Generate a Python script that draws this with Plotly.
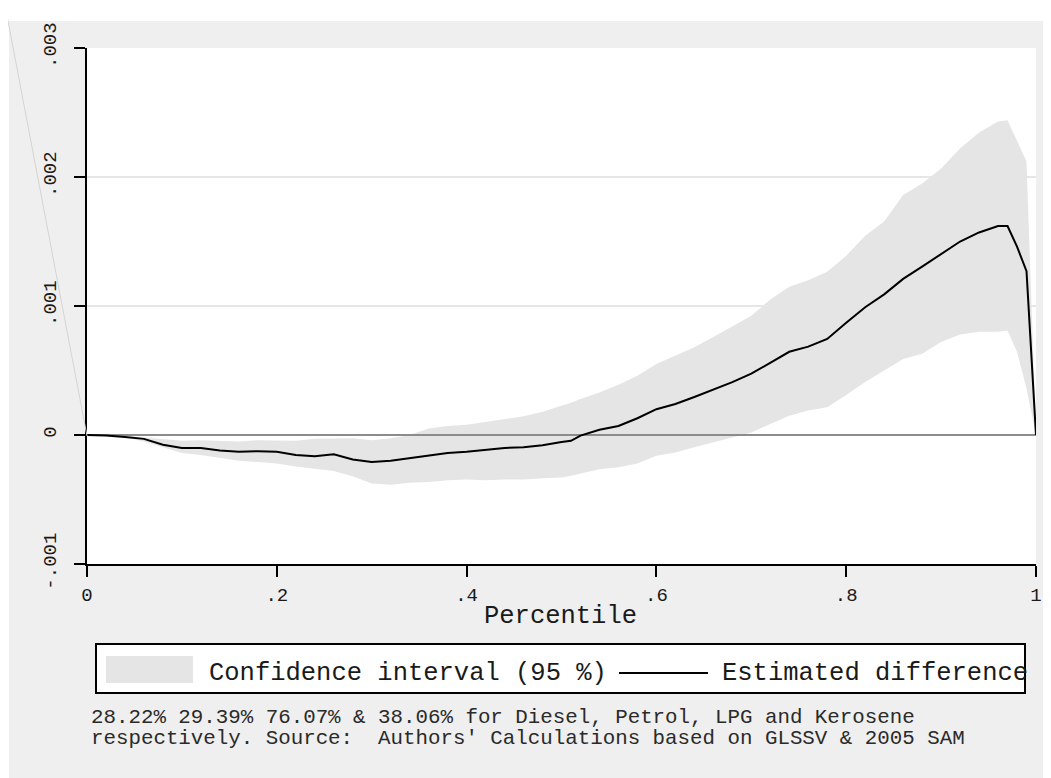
import plotly.graph_objects as go

# ---------------- data (values in units of 0.001) ----------------
percentile = [0.00, 0.02, 0.04, 0.06, 0.08, 0.10, 0.12, 0.14, 0.16, 0.18,
              0.20, 0.22, 0.24, 0.26, 0.28, 0.30, 0.32, 0.34, 0.36, 0.38,
              0.40, 0.42, 0.44, 0.46, 0.48, 0.50, 0.51, 0.52, 0.54, 0.56,
              0.58, 0.60, 0.62, 0.64, 0.66, 0.68, 0.70, 0.72, 0.74, 0.76,
              0.78, 0.80, 0.82, 0.84, 0.86, 0.88, 0.90, 0.92, 0.94, 0.96,
              0.97, 0.98, 0.99, 1.00]

estimated_diff = [0.000, -0.004, -0.015, -0.030, -0.075, -0.100, -0.100, -0.120, -0.130, -0.125,
                  -0.130, -0.155, -0.165, -0.150, -0.190, -0.210, -0.200, -0.180, -0.155, -0.140,
                  -0.130, -0.115, -0.100, -0.095, -0.080, -0.055, -0.045, -0.005, 0.040, 0.070,
                  0.130, 0.200, 0.240, 0.295, 0.350, 0.410, 0.475, 0.560, 0.645, 0.685,
                  0.745, 0.870, 0.990, 1.090, 1.210, 1.305, 1.405, 1.500, 1.570, 1.620,
                  1.620, 1.460, 1.270, 0.000]

ci_upper = [0.000, 0.000, -0.005, -0.020, -0.030, -0.045, -0.040, -0.045, -0.050, -0.040,
            -0.040, -0.045, -0.030, -0.030, -0.025, -0.040, -0.025, 0.000, 0.050, 0.070,
            0.080, 0.100, 0.125, 0.145, 0.180, 0.225, 0.250, 0.280, 0.330, 0.390,
            0.460, 0.550, 0.615, 0.680, 0.760, 0.840, 0.925, 1.050, 1.150, 1.200,
            1.265, 1.390, 1.545, 1.655, 1.860, 1.950, 2.065, 2.220, 2.345, 2.430,
            2.440, 2.280, 2.120, 0.000]

ci_lower = [0.000, -0.005, -0.020, -0.050, -0.095, -0.140, -0.155, -0.175, -0.200, -0.210,
            -0.220, -0.245, -0.260, -0.280, -0.320, -0.375, -0.385, -0.370, -0.365, -0.350,
            -0.345, -0.350, -0.345, -0.345, -0.335, -0.330, -0.315, -0.300, -0.265, -0.250,
            -0.220, -0.160, -0.135, -0.095, -0.055, -0.020, 0.020, 0.085, 0.150, 0.190,
            0.215, 0.310, 0.410, 0.500, 0.590, 0.630, 0.720, 0.780, 0.800, 0.800,
            0.810, 0.645, 0.360, 0.000]

ref_x = [0, 1]
ref_y = [0, 0]

x_tickvals = [0, 0.2, 0.4, 0.6, 0.8, 1]
x_ticktext = ["0", ".2", ".4", ".6", ".8", "1"]
y_tickvals = [-1, 0, 1, 2, 3]
y_ticktext = ["-.001", "0", ".001", ".002", ".003"]

legend_labels = ["Confidence interval (95 %)", "Estimated difference"]
x_title = "Percentile"
note_lines = ["28.22% 29.39% 76.07% & 38.06% for Diesel, Petrol, LPG and Kerosene",
              "respectively. Source:\u00a0 Authors' Calculations based on GLSSV & 2005 SAM"]

# ---------------- layout geometry (page pixels, body margin = 8) ----------------
OFF = 8
W, H = 1051, 778
PLOT_L, PLOT_R, PLOT_T, PLOT_B = 87, 1036, 48, 564     # page coordinates
L, T = PLOT_L - OFF, PLOT_T - OFF
R, B = W - (PLOT_R - OFF), H - (PLOT_B - OFF)
PW, PH = PLOT_R - PLOT_L, PLOT_B - PLOT_T


def px(x):
    return (x - PLOT_L) / PW


def py(y):
    return (PLOT_B - y) / PH


FONT = "Liberation Mono, Courier New, monospace"
BAND = "#e5e5e5"
PAGE = "#efefef"
TXT = "#1a1a1a"

fig = go.Figure()
fig.add_trace(go.Scatter(x=percentile, y=ci_lower, mode="lines", line=dict(width=0),
                         hoverinfo="skip", showlegend=False))
fig.add_trace(go.Scatter(x=percentile, y=ci_upper, mode="lines", line=dict(width=0),
                         fill="tonexty", fillcolor=BAND, name=legend_labels[0], showlegend=False))
fig.add_trace(go.Scatter(x=ref_x, y=ref_y, mode="lines", line=dict(color="#8c8c8c", width=2),
                         hoverinfo="skip", showlegend=False))
fig.add_trace(go.Scatter(x=percentile, y=estimated_diff, mode="lines",
                         line=dict(color="black", width=2), name=legend_labels[1], showlegend=False))

shapes = [
    # white margin strips at top and left
    dict(type="rect", xref="paper", yref="paper", x0=px(-20), x1=px(1070), y0=py(21), y1=py(-20),
         fillcolor="white", line=dict(width=0), layer="below"),
    dict(type="rect", xref="paper", yref="paper", x0=px(-20), x1=px(9), y0=py(800), y1=py(21),
         fillcolor="white", line=dict(width=0), layer="below"),
    # faint diagonal artifact
    dict(type="line", xref="paper", yref="paper", x0=px(87), y0=py(436), x1=px(4), y1=py(0),
         line=dict(color="#d4d4d4", width=1), layer="above"),
    # custom legend
    dict(type="rect", xref="paper", yref="paper", x0=px(96), x1=px(1025), y0=py(693), y1=py(644),
         fillcolor="white", line=dict(color="black", width=2)),
    dict(type="rect", xref="paper", yref="paper", x0=px(106), x1=px(193), y0=py(683), y1=py(656),
         fillcolor=BAND, line=dict(width=0)),
    dict(type="line", xref="paper", yref="paper", x0=px(619), x1=px(708), y0=py(673), y1=py(673),
         line=dict(color="black", width=2)),
]

annotations = [
    dict(text=legend_labels[0], x=px(207), y=py(673), xref="paper", yref="paper",
         xanchor="left", yanchor="middle", showarrow=False, font=dict(family=FONT, size=25.5, color=TXT)),
    dict(text=legend_labels[1], x=px(720), y=py(673), xref="paper", yref="paper",
         xanchor="left", yanchor="middle", showarrow=False, font=dict(family=FONT, size=25.5, color=TXT)),
    dict(text=x_title, x=px(560), y=py(616), xref="paper", yref="paper",
         xanchor="center", yanchor="middle", showarrow=False, font=dict(family=FONT, size=25.5, color=TXT)),
    dict(text=note_lines[0], x=px(89), y=py(717), xref="paper", yref="paper",
         xanchor="left", yanchor="middle", showarrow=False, font=dict(family=FONT, size=20.8, color="#2a2a2a")),
    dict(text=note_lines[1], x=px(89), y=py(738), xref="paper", yref="paper",
         xanchor="left", yanchor="middle", showarrow=False, font=dict(family=FONT, size=20.8, color="#2a2a2a")),
]

fig.update_layout(
    width=W, height=H,
    margin=dict(l=L, r=R, t=T, b=B, pad=0),
    paper_bgcolor=PAGE, plot_bgcolor="white",
    showlegend=False,
    shapes=shapes, annotations=annotations,
    xaxis=dict(range=[0, 1], showline=True, linecolor="black", linewidth=2,
               ticks="outside", ticklen=11, tickwidth=2, tickcolor="black",
               tickvals=x_tickvals, ticktext=x_ticktext, showgrid=False, zeroline=False,
               tickfont=dict(family=FONT, size=19, color=TXT), ticklabelstandoff=1),
    yaxis=dict(range=[-1, 3], showline=True, linecolor="black", linewidth=2,
               ticks="outside", ticklen=11, tickwidth=2, tickcolor="black",
               tickvals=y_tickvals, ticktext=y_ticktext, tickangle=-90,
               showgrid=True, gridcolor="#e6e6e6", gridwidth=2, zeroline=False,
               tickfont=dict(family=FONT, size=19, color=TXT), ticklabelstandoff=10),
)

fig.write_html("out.html")
